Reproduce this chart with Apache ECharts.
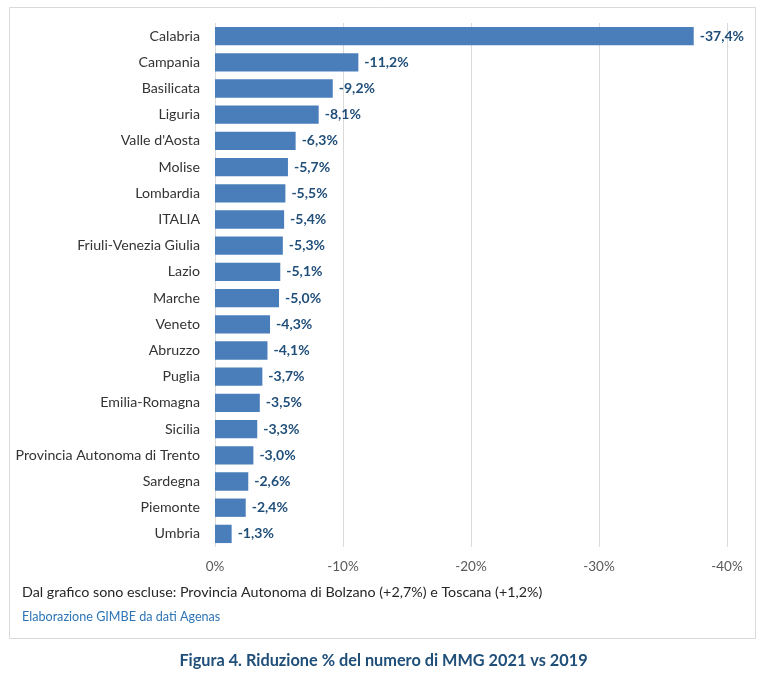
<!DOCTYPE html>
<html><head><meta charset="utf-8">
<script src="https://cdn.jsdelivr.net/npm/echarts@6/dist/echarts.min.js"></script>
<style>html,body{margin:0;padding:0;background:#fff}#c{width:767px;height:688px}</style>
</head><body><div id="c"></div>
<script>
const categories = ["Calabria","Campania","Basilicata","Liguria","Valle d'Aosta","Molise","Lombardia","ITALIA","Friuli-Venezia Giulia","Lazio","Marche","Veneto","Abruzzo","Puglia","Emilia-Romagna","Sicilia","Provincia Autonoma di Trento","Sardegna","Piemonte","Umbria"];
const values = [-37.4,-11.2,-9.2,-8.1,-6.3,-5.7,-5.5,-5.4,-5.3,-5.1,-5.0,-4.3,-4.1,-3.7,-3.5,-3.3,-3.0,-2.6,-2.4,-1.3];
const axisMin = -40, axisMax = 0, axisStep = 10;
const note = "Dal grafico sono escluse: Provincia Autonoma di Bolzano (+2,7%) e Toscana (+1,2%)";
const source = "Elaborazione GIMBE da dati Agenas";
const title = "Figura 4. Riduzione % del numero di MMG 2021 vs 2019";

const fmt = v => v.toFixed(1).replace('.', ',') + '%';
const chart = echarts.init(document.getElementById('c'), null, {renderer: 'canvas'});
const font = 'Lato';
chart.setOption({
  animation: false,
  textStyle: {fontFamily: font},
  graphic: [
    {type: 'rect', shape: {x: 9.5, y: 7.5, width: 746, height: 631}, style: {fill: 'none', stroke: '#d9d9d9', lineWidth: 1}, z: -10},
    {type: 'text', left: 22, top: 585, style: {text: note, fill: '#262626', font: '14.3px ' + font}},
    {type: 'text', left: 22, top: 610, style: {text: source, fill: '#2e75b6', font: '12.6px ' + font}},
    {type: 'text', left: 'center', top: 653, style: {text: title, fill: '#1f4e79', font: 'bold 16.3px ' + font}}
  ],
  grid: {left: 215, right: 40, top: 23, bottom: 141, containLabel: false},
  xAxis: {
    type: 'value', min: axisMin, max: axisMax, interval: axisStep, inverse: true,
    axisLine: {show: false}, axisTick: {show: false},
    splitLine: {show: true, lineStyle: {color: '#d9d9d9', width: 1}},
    axisLabel: {formatter: v => v + '%', color: '#595959', fontSize: 13.5, margin: 13, fontFamily: font}
  },
  yAxis: {
    type: 'category', data: categories, inverse: true,
    axisLine: {show: false}, axisTick: {show: false},
    axisLabel: {color: '#333333', fontSize: 14.2, margin: 15, fontFamily: font}
  },
  series: [{
    type: 'bar', data: values, barCategoryGap: '30%',
    itemStyle: {color: '#4a7ebb'},
    label: {show: true, position: 'right', distance: 6, formatter: p => fmt(p.value), color: '#1f4e79', fontWeight: 'bold', fontSize: 14, fontFamily: font}
  }]
});
</script></body></html>
